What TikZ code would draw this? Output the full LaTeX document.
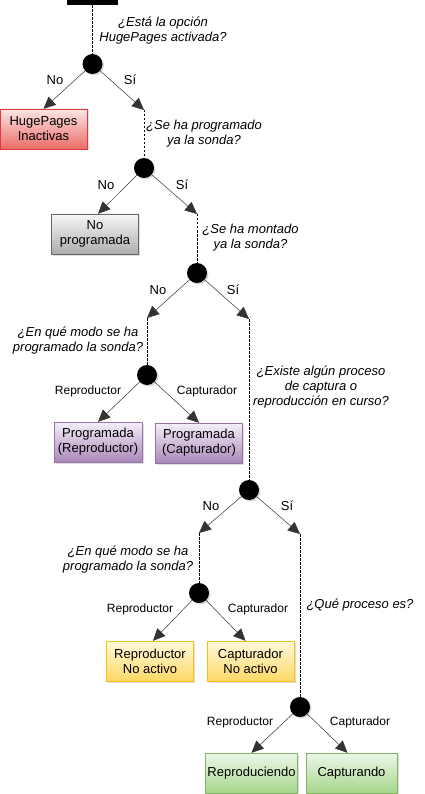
\documentclass[tikz,border=0pt]{standalone}
\usepackage{fontspec}
\setmainfont{Liberation Sans}
\usetikzlibrary{arrows.meta, shadows}

\definecolor{redtop}{HTML}{FCE6E6}
\definecolor{redbot}{HTML}{EA6B66}
\definecolor{redline}{HTML}{E0393E}
\definecolor{graytop}{HTML}{F7F7F7}
\definecolor{graybot}{HTML}{ADADAD}
\definecolor{grayline}{HTML}{666666}
\definecolor{purptop}{HTML}{F6F0F9}
\definecolor{purpbot}{HTML}{A887B8}
\definecolor{purpline}{HTML}{9673A6}
\definecolor{yeltop}{HTML}{FFF8DD}
\definecolor{yelbot}{HTML}{FFD966}
\definecolor{yelline}{HTML}{F5C211}
\definecolor{grntop}{HTML}{EEF7EA}
\definecolor{grnbot}{HTML}{A4D68A}
\definecolor{grnline}{HTML}{82B366}

\newcommand{\boxfont}{\fontsize{13}{15}\selectfont}
\newcommand{\questionfont}{\fontsize{13}{15}\selectfont\itshape}
\newcommand{\optionfont}{\fontsize{12}{14}\selectfont}

\tikzset{
  decision/.style={
    circle,
    fill=black,
    minimum size=20pt,
    inner sep=0pt,
    drop shadow={opacity=0.3, shadow xshift=1.5pt, shadow yshift=-1.5pt}
  },
  state/.style={
    rectangle,
    thin,
    minimum width=87pt,
    minimum height=40pt,
    inner sep=2pt,
    align=center,
    font=\boxfont,
    drop shadow={opacity=0.25, shadow xshift=1.5pt, shadow yshift=-1.5pt}
  },
  redstate/.style={state, draw=redline, top color=redtop, bottom color=redbot},
  graystate/.style={state, draw=grayline, top color=graytop, bottom color=graybot},
  purpstate/.style={state, draw=purpline, top color=purptop, bottom color=purpbot},
  yelstate/.style={state, draw=yelline, top color=yeltop, bottom color=yelbot},
  grnstate/.style={state, draw=grnline, top color=grntop, bottom color=grnbot},
  arrow/.style={
    draw=black!80,
    line width=0.5pt,
    -{Triangle[length=12pt, width=11pt]}
  },
  branch/.style={
    line width=0.6pt,
    dash pattern=on 2.5pt off 1.5pt
  },
  question/.style={font=\questionfont, align=center},
  answer/.style={font=\boxfont},
  option/.style={font=\optionfont}
}

\begin{document}
\begin{tikzpicture}[x=1pt, y=-1pt]

\useasboundingbox (0,0) rectangle (425,794);

% Nodes
\node (start) [fill=black, minimum width=51pt, minimum height=10pt, inner sep=0pt] at (92.5,0) {};

\node (d1) [decision] at (92.5,64) {};
\node (d2) [decision] at (144,168) {};
\node (d3) [decision] at (197,273) {};
\node (d4) [decision] at (147,375) {};
\node (d5) [decision] at (249,490) {};
\node (d6) [decision] at (199,593) {};
\node (d7) [decision] at (300,707) {};

\coordinate (t1) at (144,110);
\coordinate (t2) at (197,214);
\coordinate (t3) at (147,318);
\coordinate (t4) at (249,319);
\coordinate (t5) at (199,533);
\coordinate (t6) at (300,534);

\node (hp) [redstate] at (43.5,129) {HugePages\\Inactivas};
\node (noprog) [graystate] at (95,234) {No\\programada};
\node (progR) [purpstate, minimum width=88pt] at (98,442) {Programada\\(Reproductor)};
\node (progC) [purpstate] at (199,443) {Programada\\(Capturador)};
\node (repNA) [yelstate] at (150,661) {Reproductor\\No activo};
\node (capNA) [yelstate] at (250.5,661) {Capturador\\No activo};
\node (reprod) [grnstate, minimum width=91pt] at (251.5,773) {Reproduciendo};
\node (captur) [grnstate, minimum width=91pt] at (351.5,773) {Capturando};

% Questions
\node (q1) [question] at (163,31) {¿Está la opción\\HugePages activada?};
\node (q2) [question] at (204,134) {¿Se ha programado\\ya la sonda?};
\node (q3) [question] at (250.5,238) {¿Se ha montado\\ya la sonda?};
\node (q4) [question] at (78,341) {¿En qué modo se ha\\programado la sonda?};
\node (q5) [question] at (321,387) {¿Existe algún proceso\\de captura o\\reproducción en curso?};
\node (q6) [question] at (128,560) {¿En qué modo se ha\\programado la sonda?};
\node (q7) [question] at (360,605) {¿Qué proceso es?};

% Branch labels
\node (n1) [answer] at (55,80) {No};
\node (s1) [answer] at (130,80) {Sí};
\node (n2) [answer] at (106,185) {No};
\node (s2) [answer] at (182,185) {Sí};
\node (n3) [answer] at (158,290) {No};
\node (s3) [answer] at (233,290) {Sí};
\node (n5) [answer] at (211,506) {No};
\node (s5) [answer] at (287,506) {Sí};
\node (r4) [option] at (88,391) {Reproductor};
\node (c4) [option] at (207,391) {Capturador};
\node (r6) [option] at (140,609) {Reproductor};
\node (c6) [option] at (258,609) {Capturador};
\node (r7) [option] at (240,722) {Reproductor};
\node (c7) [option] at (360,722) {Capturador};

% Dashed branches
\draw [branch] (start) -- (d1);
\draw [branch] (t1) -- (d2);
\draw [branch] (t2) -- (d3);
\draw [branch] (t3) -- (d4);
\draw [branch] (t4) -- (d5);
\draw [branch] (t5) -- (d6);
\draw [branch] (t6) -- (d7);

% Arrows
\draw [arrow] (d1) -- (hp.north);
\draw [arrow] (d1) -- (t1);
\draw [arrow] (d2) -- ([xshift=3pt]noprog.north);
\draw [arrow] (d2) -- (t2);
\draw [arrow] (d3) -- (t3);
\draw [arrow] (d3) -- (t4);
\draw [arrow] (d4) -- (progR.north);
\draw [arrow] (d4) -- (progC.north);
\draw [arrow] (d5) -- (t5);
\draw [arrow] (d5) -- (t6);
\draw [arrow] (d6) -- ([xshift=3pt]repNA.north);
\draw [arrow] (d6) -- ([xshift=-5pt]capNA.north);
\draw [arrow] (d7) -- (reprod.north);
\draw [arrow] (d7) -- ([xshift=-4pt]captur.north);

\end{tikzpicture}
\end{document}
